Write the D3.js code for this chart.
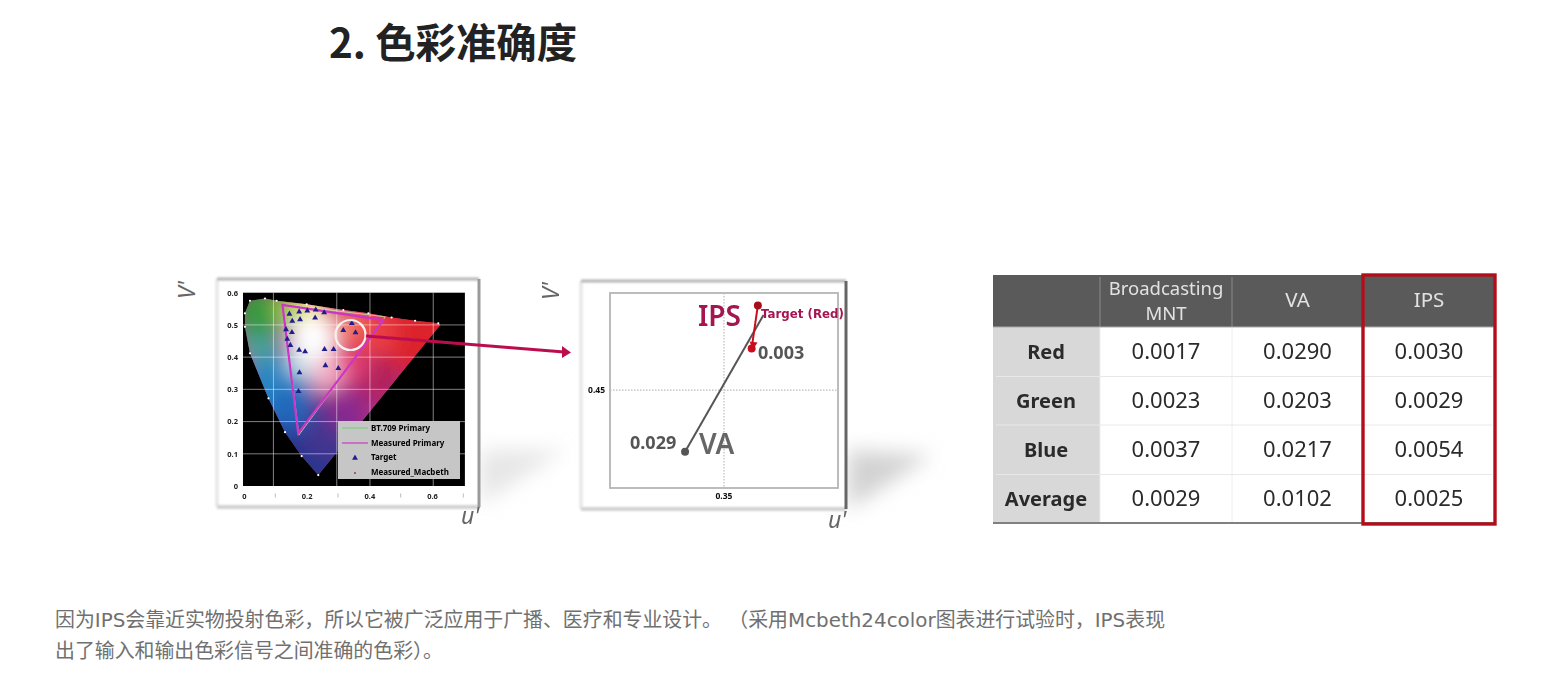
<!DOCTYPE html>
<html>
<head>
<meta charset="utf-8">
<script src="https://cdn.jsdelivr.net/npm/d3@7"></script>
<style>
  html, body { margin: 0; padding: 0; background: #fff; overflow: hidden; }
  svg { display: block; }
  text { font-family: "Noto Sans", "Noto Sans CJK SC", sans-serif; }
</style>
</head>
<body>
<div id="chart"></div>
<script>
// CIE diagram as [u', v']
const locus = [[.003,.536],[.019,.575],[.067,.582],[.104,.575],[.200,.564],[.317,.546],[.397,.536],[.471,.523],[.546,.513],[.620,.505],[.626,.500],[.237,.034],[.184,.093],[.131,.167],[.078,.272],[.019,.412],[.003,.494]];
const measuredPrimary = [[.123,.562],[.445,.515],[.173,.163]];
const bt709Primary = [[.125,.564],[.451,.525],[.175,.158]];
const targets = [[.145,.534],[.176,.541],[.202,.544],[.229,.547],[.256,.538],[.154,.512],[.179,.517],[.227,.522],[.134,.486],[.153,.477],[.138,.456],[.148,.437],[.176,.422],[.195,.417],[.257,.424],[.286,.424],[.260,.374],[.301,.365],[.177,.352],[.174,.294],[.317,.483],[.344,.505],[.356,.476]];
// colour patches of the diagram: u', v', radius in u' units, colour
const colourPatches = [
  [.32,.28,.40,'#b92f86'],[.10,.30,.12,'#2a86c2'],[.20,.12,.16,'#28368e'],[.28,.17,.10,'#43358f'],
  [.14,.24,.07,'#2468bc'],[.05,.45,.07,'#46a09c'],[.05,.54,.08,'#379a3f'],[.15,.55,.05,'#a8cf4a'],
  [.22,.56,.04,'#ffe25a'],[.55,.48,.14,'#dc2029'],[.40,.47,.09,'#ea3d45'],[.42,.33,.08,'#b0245a'],
  [.33,.24,.07,'#8a2c8e'],[.34,.37,.06,'#de3c78'],[.26,.35,.055,'#f5b2c8'],[.22,.46,.075,'#ffffff'],
  [.18,.38,.04,'#d8ecf0'],[.33,.50,.05,'#f27a66']
];
const gridU = [.094,.296,.402,.604];
const gridV = [.1,.2,.3,.4,.5];
const leftTicksU = [0,.2,.4,.6];
const minorTicksU = [.1,.3,.5,.7];
const leftTicksV = [0,.1,.2,.3,.4,.5,.6];
const legendLabels = ['BT.709 Primary','Measured Primary','Target','Measured_Macbeth'];

// zoomed plot
const targetRed = [.3560,.4650];
const ipsRed = [.3549,.4574];
const vaRed = [.3431,.4391];
const vaLineEnd = [.3570,.4633];

// table
const tableColumns = ['Broadcasting\nMNT','VA','IPS'];
const tableRows = ['Red','Green','Blue','Average'];
const broadcastingValues = ['0.0017','0.0023','0.0037','0.0029'];
const vaValues = ['0.0290','0.0203','0.0217','0.0102'];
const ipsValues = ['0.0030','0.0029','0.0054','0.0025'];

const title = '2. 色彩准确度';
const bodyLines = [
  '因为IPS会靠近实物投射色彩，所以它被广泛应用于广播、医疗和专业设计。 （采用Mcbeth24color图表进行试验时，IPS表现',
  '出了输入和输出色彩信号之间准确的色彩）。'
];

const svg = d3.select('#chart').append('svg').attr('width', 1559).attr('height', 693);
const defs = svg.append('defs');
const addBlur = (id, s) => defs.append('filter').attr('id', id)
  .attr('x', '-50%').attr('y', '-50%').attr('width', '200%').attr('height', '200%')
  .append('feGaussianBlur').attr('stdDeviation', s);
addBlur('soft', 0.55);
addBlur('soft2', 1.1);
addBlur('blur', 0.75);
addBlur('blob', 10);
addBlur('shadow', 10);

svg.append('text').attr('x', 329).attr('y', 58)
  .attr('font-size', 40.4).attr('font-weight', 700).attr('fill', '#222')
  .attr('style', 'font-family:"Noto Sans CJK SC",sans-serif')
  .text(title);

// floor shadows behind the frames
const shadows = svg.append('g').attr('filter', 'url(#shadow)').attr('fill', '#d2d2d2');
shadows.append('path').attr('d', 'M480,450 L565,450 L480,505 Z').attr('opacity', .55);
shadows.append('path').attr('d', 'M848,450 L932,455 L848,510 Z');

function drawFrame(g, x, y, w, h, edge) {
  g.append('rect').attr('x', x).attr('y', y).attr('width', w).attr('height', h).attr('fill', '#fff');
  const edges = g.append('g').attr('filter', 'url(#soft2)');
  edges.append('rect').attr('x', x - 1.5).attr('y', y).attr('width', 3).attr('height', h).attr('fill', '#e4e4e4');
  edges.append('rect').attr('x', x).attr('y', y + h - 2).attr('width', w).attr('height', 4).attr('fill', '#d2d2d2');
  edges.append('rect').attr('x', x).attr('y', y - 1.5).attr('width', w).attr('height', 3).attr('fill', '#b4b4b4');
  g.append('rect').attr('x', x + w - 1.5).attr('y', y).attr('width', 3).attr('height', h)
    .attr('fill', edge).attr('filter', 'url(#soft)');
}

// ---- left plot
const left = svg.append('g');
drawFrame(left, 217, 279, 262, 228, '#9a9a9a');
const u = d3.scaleLinear().domain([0, .6]).range([244, 432]);
const v = d3.scaleLinear().domain([0, .6]).range([486, 292.7]);
const plotRight = u(.705);

const plot = left.append('g').attr('filter', 'url(#blur)');
plot.append('rect').attr('x', 243).attr('y', v(.6)).attr('width', plotRight - 243).attr('height', v(0) - v(.6)).attr('fill', '#050505');

const line = d3.line().x(d => u(d[0])).y(d => v(d[1]));
defs.append('clipPath').attr('id', 'locusClip').append('path')
  .attr('d', line.curve(d3.curveLinearClosed)(locus));
line.curve(d3.curveLinear);

const clipped = plot.append('g').attr('clip-path', 'url(#locusClip)');
clipped.append('rect').attr('x', 243).attr('y', v(.6)).attr('width', plotRight - 243).attr('height', v(0) - v(.6)).attr('fill', '#b92f78');
clipped.append('g').attr('filter', 'url(#blob)')
  .selectAll('circle').data(colourPatches).join('circle')
  .attr('cx', d => u(d[0])).attr('cy', d => v(d[1]))
  .attr('r', d => u(d[2]) - u(0)).attr('fill', d => d[3]);

plot.append('g').attr('stroke', '#fff').attr('stroke-opacity', .6).attr('stroke-width', .8)
  .selectAll('line').data(gridU).join('line')
  .attr('x1', d => u(d)).attr('x2', d => u(d)).attr('y1', v(.6)).attr('y2', v(0));
plot.append('g').attr('stroke', '#fff').attr('stroke-opacity', .6).attr('stroke-width', .8)
  .selectAll('line').data(gridV).join('line')
  .attr('x1', 243).attr('x2', plotRight).attr('y1', d => v(d)).attr('y2', d => v(d));

plot.append('g').selectAll('circle').data(locus.slice(0, 10).concat(locus.slice(11))).join('circle')
  .attr('cx', d => u(d[0])).attr('cy', d => v(d[1])).attr('r', 1.1).attr('fill', '#fff');

plot.append('path').attr('d', line.curve(d3.curveLinearClosed)(bt709Primary))
  .attr('fill', 'none').attr('stroke', '#cfe8a0').attr('stroke-width', .8);
plot.append('path').attr('d', line.curve(d3.curveLinearClosed)(measuredPrimary))
  .attr('fill', 'none').attr('stroke', '#cc35c6').attr('stroke-width', 2.2);
line.curve(d3.curveLinear);

const tri = d3.symbol().type(d3.symbolTriangle).size(15);
plot.append('g').selectAll('path').data(targets).join('path')
  .attr('transform', d => `translate(${u(d[0])},${v(d[1])})`)
  .attr('d', tri).attr('fill', '#221c8c');

// legend box
const legend = plot.append('g').attr('transform', 'translate(338,421)');
legend.append('rect').attr('width', 122).attr('height', 58).attr('fill', '#c6c6c6');
legend.append('line').attr('x1', 4).attr('x2', 30).attr('y1', 7).attr('y2', 7).attr('stroke', '#7fcf7f').attr('stroke-width', 1.2);
legend.append('line').attr('x1', 4).attr('x2', 30).attr('y1', 22).attr('y2', 22).attr('stroke', '#c93bc4').attr('stroke-width', 1.2);
legend.append('path').attr('transform', 'translate(17,37)').attr('d', tri).attr('fill', '#221c8c');
legend.append('circle').attr('cx', 17).attr('cy', 52).attr('r', 1).attr('fill', '#b03040');
legend.selectAll('text').data(legendLabels).join('text')
  .attr('x', 33).attr('y', (d, i) => 10 + i * 14.7)
  .attr('font-size', 8).attr('font-weight', 700).attr('fill', '#000').text(d => d);

// left plot axes
const axisU = left.append('g').attr('transform', 'translate(0,495)').attr('filter', 'url(#soft)')
  .call(d3.axisBottom(u).tickValues(leftTicksU).tickSize(0).tickFormat(d => d === 0 ? '0' : d3.format('.1f')(d)));
axisU.select('.domain').remove();
axisU.selectAll('text').attr('dy', 0).attr('y', 3.5).attr('font-size', 7.5).attr('font-weight', 700).attr('fill', '#222');
left.append('g').selectAll('line').data(minorTicksU).join('line')
  .attr('x1', d => u(d)).attr('x2', d => u(d)).attr('y1', 493.5).attr('y2', 497.5)
  .attr('stroke', '#aaa').attr('stroke-width', .8);
const axisV = left.append('g').attr('transform', 'translate(238,0)').attr('filter', 'url(#soft)')
  .call(d3.axisLeft(v).tickValues(leftTicksV).tickSize(0).tickFormat(d => d === 0 ? '0' : d3.format('.1f')(d)));
axisV.select('.domain').remove();
axisV.selectAll('text').attr('x', 0).attr('font-size', 7.5).attr('font-weight', 700).attr('fill', '#222');

// circle and pointer from the left plot to the zoomed one
left.append('circle').attr('cx', 350.5).attr('cy', 335).attr('r', 15)
  .attr('fill', 'none').attr('stroke', '#f4f0ee').attr('stroke-width', 2.2).attr('filter', 'url(#soft)');

// ---- zoomed plot
const right = svg.append('g');
drawFrame(right, 581, 281, 265, 228, '#666');
const zu = d3.scaleLinear().domain([.3298, .3702]).range([610, 838]);
const zv = d3.scaleLinear().domain([.4327, .4672]).range([488, 293]);

const pointer = svg.append('g').attr('filter', 'url(#soft)');
pointer.append('line').attr('x1', 366).attr('y1', 336).attr('x2', 564).attr('y2', 352)
  .attr('stroke', '#bb0f4e').attr('stroke-width', 3.2);
pointer.append('path').attr('d', 'M562,346 L571,352.5 L562,358 Z').attr('fill', '#bb0f4e');

const inner = right.append('g').attr('filter', 'url(#blur)');
inner.append('rect').attr('x', zu.range()[0]).attr('y', zv.range()[1])
  .attr('width', zu.range()[1] - zu.range()[0]).attr('height', zv.range()[0] - zv.range()[1])
  .attr('fill', '#fff').attr('stroke', '#b5b5b5').attr('stroke-width', 1.8);
inner.append('line').attr('x1', zu(.35)).attr('x2', zu(.35)).attr('y1', zv.range()[1]).attr('y2', zv.range()[0])
  .attr('stroke', '#bbb').attr('stroke-dasharray', '1.5 1.5').attr('stroke-width', 1.2);
inner.append('line').attr('x1', zu.range()[0]).attr('x2', zu.range()[1]).attr('y1', zv(.45)).attr('y2', zv(.45))
  .attr('stroke', '#bbb').attr('stroke-dasharray', '1.5 1.5').attr('stroke-width', 1.2);
inner.append('text').attr('x', zu(.35)).attr('y', 499).attr('text-anchor', 'middle')
  .attr('font-size', 8.5).attr('font-weight', 700).attr('fill', '#111').text('0.35');
inner.append('text').attr('x', 605).attr('y', 393).attr('text-anchor', 'end')
  .attr('font-size', 8.5).attr('font-weight', 700).attr('fill', '#111').text('0.45');

inner.append('line').attr('x1', zu(vaRed[0])).attr('y1', zv(vaRed[1]))
  .attr('x2', zu(vaLineEnd[0])).attr('y2', zv(vaLineEnd[1]))
  .attr('stroke', '#555').attr('stroke-width', 2);
inner.append('line').attr('x1', zu(targetRed[0])).attr('y1', zv(targetRed[1]))
  .attr('x2', zu(ipsRed[0])).attr('y2', zv(ipsRed[1]))
  .attr('stroke', '#c8101c').attr('stroke-width', 2);
inner.append('circle').attr('cx', zu(targetRed[0])).attr('cy', zv(targetRed[1])).attr('r', 4).attr('fill', '#a8101c');
inner.append('circle').attr('cx', zu(ipsRed[0])).attr('cy', zv(ipsRed[1])).attr('r', 4).attr('fill', '#c8101c');
inner.append('path').attr('transform', `translate(${zu(ipsRed[0]) + 2},${zv(ipsRed[1]) - 4})`)
  .attr('d', 'M-4,-3 L4,-2 L-1,5 Z').attr('fill', '#c8101c');
inner.append('circle').attr('cx', zu(vaRed[0])).attr('cy', zv(vaRed[1])).attr('r', 4).attr('fill', '#555');

inner.append('text').attr('x', 698).attr('y', 326).attr('font-size', 28).attr('font-weight', 600).attr('fill', '#a5134f').text('IPS');
inner.append('text').attr('x', 761).attr('y', 318).attr('font-size', 11.8).attr('font-weight', 700)
  .attr('fill', '#a5134f').attr('style', 'font-family:"DejaVu Sans",sans-serif').text('Target (Red)');
inner.append('text').attr('x', 758).attr('y', 359).attr('font-size', 18).attr('font-weight', 700).attr('fill', '#555').text('0.003');
inner.append('text').attr('x', 630).attr('y', 449).attr('font-size', 18).attr('font-weight', 700).attr('fill', '#555').text('0.029');
inner.append('text').attr('x', 699).attr('y', 454).attr('font-size', 28).attr('font-weight', 600).attr('fill', '#666').text('VA');

// axis names
const axisName = svg.append('g').attr('fill', '#666').attr('font-size', 23).attr('font-style', 'italic')
  .attr('style', 'font-family:"Liberation Sans",sans-serif');
[[195, 299], [559, 300]].forEach(p => axisName.append('text')
  .attr('transform', `translate(${p[0]},${p[1]}) rotate(-90)`).text("V'"));
[[461, 524], [828, 528]].forEach(p => axisName.append('text').attr('x', p[0]).attr('y', p[1]).text("u'"));

// ---- table
const colEdges = [993, 1100, 1232, 1363, 1495];
const rowEdges = [327, 376.5, 425, 474.5, 523];
const table = svg.append('g').attr('filter', 'url(#soft)');
table.append('rect').attr('x', 993).attr('y', 275).attr('width', 502).attr('height', 52).attr('fill', '#5a5a5a');
table.append('rect').attr('x', 993).attr('y', 327).attr('width', 107).attr('height', 196).attr('fill', '#d8d8d8');
table.selectAll('line.sep').data(colEdges.slice(1, 3)).join('line').attr('class', 'sep')
  .attr('x1', d => d).attr('x2', d => d).attr('y1', 277).attr('y2', 327).attr('stroke', '#8a8a8a');
table.selectAll('line.col').data(colEdges.slice(1, 3)).join('line').attr('class', 'col')
  .attr('x1', d => d).attr('x2', d => d).attr('y1', 327).attr('y2', 523).attr('stroke', '#eee');
table.selectAll('line.row').data(rowEdges.slice(1, 4)).join('line').attr('class', 'row')
  .attr('x1', 996).attr('x2', 1492).attr('y1', d => d).attr('y2', d => d).attr('stroke', '#e8e8e8');
table.append('line').attr('x1', 993).attr('x2', 1495).attr('y1', 327).attr('y2', 327).attr('stroke', '#aaa');
table.append('line').attr('x1', 993).attr('x2', 1495).attr('y1', 523).attr('y2', 523).attr('stroke', '#808080').attr('stroke-width', 2);

tableColumns.forEach((c, i) => {
  const cx = (colEdges[i + 1] + colEdges[i + 2]) / 2;
  const parts = c.split('\n');
  parts.forEach((p, j) => table.append('text').attr('x', cx)
    .attr('y', (parts.length > 1 ? 295 + j * 25 : 307))
    .attr('text-anchor', 'middle').attr('font-size', parts.length > 1 ? 18.5 : 20.5).attr('fill', '#e2e2e2').text(p));
});
tableRows.forEach((r, i) => {
  const cy = (rowEdges[i] + rowEdges[i + 1]) / 2 + 7;
  table.append('text').attr('x', 1046).attr('y', cy).attr('text-anchor', 'middle')
    .attr('font-size', 20).attr('font-weight', 700).attr('fill', '#2b2b2b').text(r);
  [broadcastingValues, vaValues, ipsValues].forEach((vals, k) => {
    table.append('text').attr('x', (colEdges[k + 1] + colEdges[k + 2]) / 2).attr('y', cy)
      .attr('text-anchor', 'middle').attr('font-size', 22).attr('fill', '#2b2b2b').text(vals[i]);
  });
});
table.append('rect').attr('x', 1363).attr('y', 275).attr('width', 132).attr('height', 249)
  .attr('fill', 'none').attr('stroke', '#b3101c').attr('stroke-width', 3.4);

// ---- paragraph
svg.append('g').attr('fill', '#707070').attr('font-size', 19.9)
  .selectAll('text').data(bodyLines).join('text')
  .attr('x', 55).attr('y', (d, i) => 627 + i * 31)
  .attr('style', 'font-family:"DejaVu Sans","Noto Sans CJK SC",sans-serif')
  .text(d => d);
</script>
</body>
</html>
